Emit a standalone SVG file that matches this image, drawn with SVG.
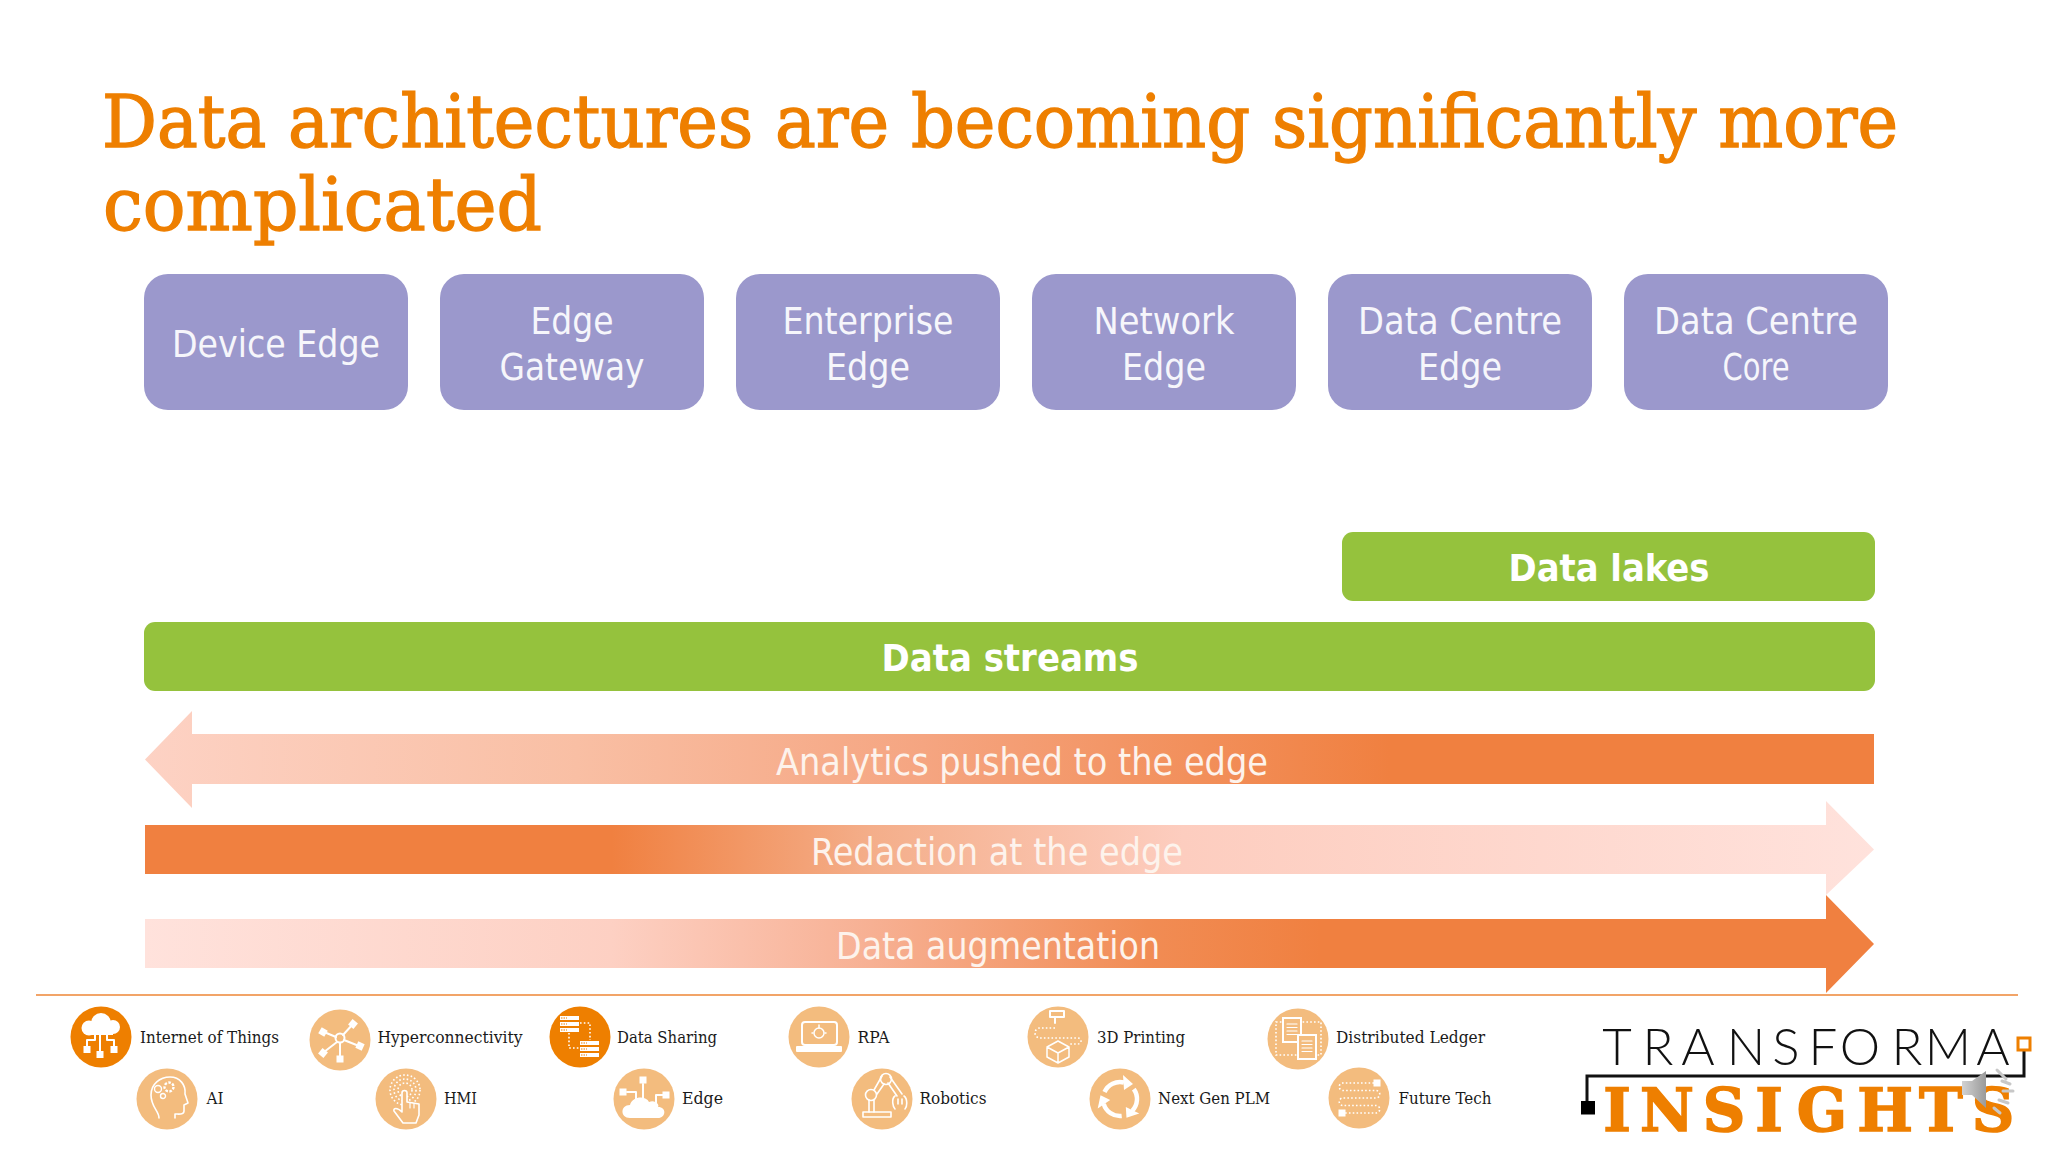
<svg xmlns="http://www.w3.org/2000/svg" width="2048" height="1152" viewBox="0 0 2048 1152">
<style>
.title{font-family:"DejaVu Serif","Liberation Serif",serif;font-size:72px;fill:#EE7F00;stroke:#EE7F00;stroke-width:1.4px}
.t{font-family:"DejaVu Sans","Noto Sans",sans-serif;font-stretch:condensed;font-size:37px;fill:#F6F6FB;text-anchor:middle}
.b{font-family:"DejaVu Sans","Noto Sans",sans-serif;font-stretch:condensed;font-size:38px;font-weight:bold;fill:#fff;text-anchor:middle}
.a{font-family:"DejaVu Sans","Noto Sans",sans-serif;font-stretch:condensed;font-size:37px;fill:#FDF3EC;text-anchor:middle}
.l{font-family:"DejaVu Serif","Liberation Serif",serif;font-size:16px;fill:#1a1a1a}
.box{fill:#9B98CC}
.bar{fill:#95C23D}
.dk{fill:#EE7F00}
.lt{fill:#F3BC7E}
.w{fill:#fff}
.s{fill:none;stroke:#fff;stroke-width:2;stroke-linejoin:round;stroke-linecap:round}
.d{fill:none;stroke:#fff;stroke-width:1.6;stroke-dasharray:1.6 2.2}
</style>
<defs>
<linearGradient id="g1" gradientUnits="userSpaceOnUse" x1="145" y1="0" x2="1874" y2="0">
<stop offset="0" stop-color="#FDD2C4"/><stop offset="0.25" stop-color="#F9BFA4"/><stop offset="0.45" stop-color="#F5A581"/><stop offset="0.72" stop-color="#F08040"/><stop offset="1" stop-color="#F08040"/>
</linearGradient>
<linearGradient id="g2" gradientUnits="userSpaceOnUse" x1="145" y1="0" x2="1874" y2="0">
<stop offset="0" stop-color="#F08040"/><stop offset="0.27" stop-color="#F08040"/><stop offset="0.42" stop-color="#F4AE8A"/><stop offset="0.6" stop-color="#FDCDBF"/><stop offset="1" stop-color="#FFE2DC"/>
</linearGradient>
<linearGradient id="g3" gradientUnits="userSpaceOnUse" x1="145" y1="0" x2="1874" y2="0">
<stop offset="0" stop-color="#FFE2DC"/><stop offset="0.27" stop-color="#FDD0C3"/><stop offset="0.42" stop-color="#F7B093"/><stop offset="0.58" stop-color="#F18C54"/><stop offset="0.68" stop-color="#F08040"/><stop offset="1" stop-color="#F08040"/>
</linearGradient>
<linearGradient id="sp" x1="0" y1="0" x2="1" y2="0"><stop offset="0" stop-color="#D2D2D2"/><stop offset="1" stop-color="#9A9A9A"/></linearGradient>
</defs>
<rect width="2048" height="1152" fill="#fff"/>
<g id="title">
<text class="title" x="102" y="147" textLength="1796" lengthAdjust="spacingAndGlyphs">Data architectures are becoming significantly more</text>
<text class="title" x="103" y="230" textLength="439" lengthAdjust="spacingAndGlyphs">complicated</text>
</g>
<g id="device-edge"><rect class="box" x="144" y="274" width="264" height="136" rx="24"/><text class="t" x="276" y="357" textLength="208" lengthAdjust="spacingAndGlyphs">Device Edge</text></g>
<g id="edge-gateway"><rect class="box" x="440" y="274" width="264" height="136" rx="24"/><text class="t" x="572" y="334" textLength="83" lengthAdjust="spacingAndGlyphs">Edge</text><text class="t" x="572" y="380" textLength="145" lengthAdjust="spacingAndGlyphs">Gateway</text></g>
<g id="enterprise-edge"><rect class="box" x="736" y="274" width="264" height="136" rx="24"/><text class="t" x="868" y="334" textLength="171" lengthAdjust="spacingAndGlyphs">Enterprise</text><text class="t" x="868" y="380" textLength="84" lengthAdjust="spacingAndGlyphs">Edge</text></g>
<g id="network-edge"><rect class="box" x="1032" y="274" width="264" height="136" rx="24"/><text class="t" x="1164" y="334" textLength="141" lengthAdjust="spacingAndGlyphs">Network</text><text class="t" x="1164" y="380" textLength="84" lengthAdjust="spacingAndGlyphs">Edge</text></g>
<g id="data-centre-edge"><rect class="box" x="1328" y="274" width="264" height="136" rx="24"/><text class="t" x="1460" y="334" textLength="204" lengthAdjust="spacingAndGlyphs">Data Centre</text><text class="t" x="1460" y="380" textLength="84" lengthAdjust="spacingAndGlyphs">Edge</text></g>
<g id="data-centre-core"><rect class="box" x="1624" y="274" width="264" height="136" rx="24"/><text class="t" x="1756" y="334" textLength="204" lengthAdjust="spacingAndGlyphs">Data Centre</text><text class="t" x="1756" y="380" textLength="67" lengthAdjust="spacingAndGlyphs">Core</text></g>
<g id="data-lakes"><rect class="bar" x="1342" y="532" width="533" height="69" rx="11"/><text class="b" x="1609" y="581" textLength="201" lengthAdjust="spacingAndGlyphs">Data lakes</text></g>
<g id="data-streams"><rect class="bar" x="144" y="622" width="1731" height="69" rx="11"/><text class="b" x="1010" y="671" textLength="257" lengthAdjust="spacingAndGlyphs">Data streams</text></g>
<g id="connectors">
<g id="analytics-arrow"><path fill="url(#g1)" d="M145,759.500 L192,711 V734 H1874 V784 H192 V808 Z"/><text class="a" x="1022" y="775" textLength="492" lengthAdjust="spacingAndGlyphs">Analytics pushed to the edge</text></g>
<g id="redaction-arrow"><path fill="url(#g2)" d="M145,825 H1826 V801 L1874,849.500 L1826,895 V874 H145 Z"/><text class="a" x="997" y="865" textLength="372" lengthAdjust="spacingAndGlyphs">Redaction at the edge</text></g>
<g id="augmentation-arrow"><path fill="url(#g3)" d="M145,919 H1826 V895 L1874,944 L1826,993 V968 H145 Z"/><text class="a" x="998" y="959" textLength="324" lengthAdjust="spacingAndGlyphs">Data augmentation</text></g>
</g>
<line id="divider" x1="36" y1="995" x2="2018" y2="995" stroke="#F2A468" stroke-width="1.800"/>

<g id="iot"><circle class="dk" cx="101" cy="1037" r="30.500"/><g transform="translate(101,1037)"><circle class="w" cx="-12" cy="-9" r="7.500"/><circle class="w" cx="0" cy="-14" r="10"/><circle class="w" cx="12" cy="-10" r="7"/><rect class="w" x="-12" y="-12" width="24" height="10"/><path class="s" d="M-1,-2 V14 M-6,-2 V3 H-14 V9 M6,-2 V3 H13 V9"/><rect class="w" x="-17.500" y="9" width="7" height="7"/><rect class="w" x="-4.500" y="14" width="7" height="7"/><rect class="w" x="9.500" y="9" width="7" height="7"/></g><text class="l" x="140" y="1043" textLength="139" lengthAdjust="spacingAndGlyphs">Internet of Things</text></g>

<g id="hyperconnectivity"><circle class="lt" cx="340" cy="1040" r="30.500"/><g transform="translate(340,1040)"><circle class="s" cx="0" cy="-2" r="4.500"/><path class="s" d="M-4,-3 L-16,-8 M3,-5 L13,-16 M4,0 L19,6 M-3,2 L-16,12 M0,3 V19"/><rect class="w" x="-3.500" y="-3.500" width="7" height="7" transform="translate(-17,-8) rotate(30)"/><rect class="w" x="-3.500" y="-3.500" width="7" height="7" transform="translate(13,-16) rotate(40)"/><rect class="w" x="-3.500" y="-3.500" width="7" height="7" transform="translate(20,6) rotate(25)"/><rect class="w" x="-3.500" y="-3.500" width="7" height="7" transform="translate(-17,13) rotate(40)"/><rect class="w" x="-3.500" y="15.500" width="7" height="7"/></g><text class="l" x="377.500" y="1043" textLength="145" lengthAdjust="spacingAndGlyphs">Hyperconnectivity</text></g>

<g id="data-sharing"><circle class="dk" cx="580" cy="1037" r="30.500"/><g transform="translate(580,1037)"><path class="w" d="M-20,-21 h19 v4 h-19 Z M-20,-15 h19 v4 h-19 Z M-20,-9 h19 v4 h-19 Z M0,4 h19 v4 h-19 Z M0,10 h19 v4 h-19 Z M0,16 h19 v4 h-19 Z"/><path d="M-19,-19 h6 M-19,-13 h6 M-19,-7 h6 M1,6 h6 M1,12 h6 M1,18 h6" stroke="#EE7F00" stroke-width="1.200" stroke-dasharray="1.500 1"/><path class="d" d="M0,-14 H10 V3 M-11,-4 V11 H0"/></g><text class="l" x="617" y="1043" textLength="100" lengthAdjust="spacingAndGlyphs">Data Sharing</text></g>

<g id="rpa"><circle class="lt" cx="819" cy="1037" r="30.500"/><g transform="translate(819,1037)"><rect class="s" x="-17" y="-15" width="35" height="23" rx="3"/><rect class="w" x="-23" y="9" width="46" height="6" rx="1"/><circle class="s" style="stroke-width:1.500" cx="0" cy="-4" r="5"/><path class="s" style="stroke-width:1.500" d="M0,-9 V-12 M-6,-4 H-7 M6,-4 H7"/></g><text class="l" x="857.500" y="1043" textLength="32" lengthAdjust="spacingAndGlyphs">RPA</text></g>

<g id="printing-3d"><circle class="lt" cx="1058" cy="1037" r="30.500"/><g transform="translate(1058,1037)"><rect class="s" x="-8" y="-26" width="14" height="6"/><path class="s" d="M-3,-20 V-14"/><path class="d" d="M-3,-9 H-18 a5,5 0 0 0 0,10 H20 a3,3 0 0 1 0,6 H11"/><path class="s" style="stroke-width:1.500" d="M0,4 L11,10 V20 L0,26 L-11,20 V10 Z M-11,10 L0,16 L11,10 M0,16 V26"/></g><text class="l" x="1097" y="1043" textLength="88" lengthAdjust="spacingAndGlyphs">3D Printing</text></g>

<g id="distributed-ledger"><circle class="lt" cx="1298" cy="1039" r="30.500"/><g transform="translate(1298,1039)"><rect class="d" x="-22" y="-17" width="45" height="33"/><rect x="-15" y="-21" width="18" height="24" fill="#F3BC7E" stroke="#fff" stroke-width="2"/><rect x="0" y="-4" width="18" height="24" fill="#F3BC7E" stroke="#fff" stroke-width="2"/><path class="s" style="stroke-width:1.200" d="M-11,-15 H-1 M-11,-11.500 H-1 M-11,-8 H-1 M-11,-4.500 H-1 M4,2 H14 M4,5.500 H14 M4,9 H14 M4,12.500 H14"/></g><text class="l" x="1336" y="1043" textLength="149" lengthAdjust="spacingAndGlyphs">Distributed Ledger</text></g>

<g id="ai"><circle class="lt" cx="167" cy="1099" r="30.500"/><g transform="translate(167,1099)"><path class="s" style="stroke-width:1.600" d="M-8,19 C-8,12 -16,8 -16,-4 C-16,-15 -7,-22 3,-22 C13,-22 19,-14 18,-5 L21,4 L17,6 L17,12 C17,16 12,15 8,15 L8,19"/><circle class="s" style="stroke-width:2.400;stroke-dasharray:2.500 1.500;stroke-linecap:butt" cx="2" cy="-12" r="4.500"/><circle class="s" style="stroke-width:1.400" cx="-9" cy="-10" r="3.500"/><circle class="s" style="stroke-width:1.400" cx="-4" cy="-3" r="2.500"/></g><text class="l" x="206.500" y="1104" textLength="17" lengthAdjust="spacingAndGlyphs">AI</text></g>

<g id="hmi"><circle class="lt" cx="406" cy="1099" r="30.500"/><g transform="translate(406,1099)"><circle class="d" cx="-1" cy="-9" r="7"/><circle class="d" cx="-1" cy="-9" r="11"/><circle class="d" cx="-1" cy="-9" r="15"/><path class="s" style="fill:#F3BC7E;stroke-width:1.600" d="M-3,24 L-12,12 C-13,9 -9,8 -4,13 V-6 a2.500,2.500 0 0 1 5,0 V3 L13,5 V16 L10,24 Z"/><path class="s" style="stroke-width:1.200" d="M4,4 V9 M8,4.500 V9"/></g><text class="l" x="444" y="1104" textLength="33" lengthAdjust="spacingAndGlyphs">HMI</text></g>

<g id="edge"><circle class="lt" cx="644" cy="1099" r="30.500"/><g transform="translate(644,1099)"><path class="s" d="M-17,-7 H-8 V2 M-1,-15 V0 M19,-4 H12 V4"/><rect class="w" x="-24.500" y="-10.500" width="7" height="7"/><rect class="w" x="-4.500" y="-22.500" width="7" height="7"/><rect class="w" x="18.500" y="-7.500" width="7" height="7"/><path class="w" d="M-14,19 C-24,19 -24,6 -14,6 C-12,-3 2,-4 5,3 C11,0 16,6 14,8 C23,8 22,19 14,19 Z"/></g><text class="l" x="682" y="1104" textLength="41" lengthAdjust="spacingAndGlyphs">Edge</text></g>

<g id="robotics"><circle class="lt" cx="882" cy="1099" r="30.500"/><g transform="translate(882,1099)"><rect class="s" style="stroke-width:1.600" x="-19" y="13" width="28" height="5"/><path class="s" style="stroke-width:1.600" d="M-13,13 V1 M-8,13 V1 M-8,-9 L0,-23 M-5,-5 L2,-15 M8,-22 L20,-5 M6,-16 L15,-3 M13,-3 C9,0 11,8 13,10 M22,-3 C26,0 25,8 23,10 M16,0 V5 M20,0 V5"/><circle class="s" style="stroke-width:1.600" cx="-11" cy="-4" r="5.500"/><circle class="s" style="stroke-width:1.600" cx="4" cy="-20" r="5.500"/></g><text class="l" x="919.500" y="1104" textLength="67" lengthAdjust="spacingAndGlyphs">Robotics</text></g>

<g id="next-gen-plm"><circle class="lt" cx="1120" cy="1099" r="30.500"/><g transform="translate(1120,1099)"><g><path fill="none" stroke="#fff" stroke-width="4.500" d="M-15.500,-7 A17,17 0 0 1 4,-16.500"/><path class="w" d="M3,-24 L13,-15 L4,-9 Z"/></g><g transform="rotate(120)"><path fill="none" stroke="#fff" stroke-width="4.500" d="M-15.500,-7 A17,17 0 0 1 4,-16.500"/><path class="w" d="M3,-24 L13,-15 L4,-9 Z"/></g><g transform="rotate(240)"><path fill="none" stroke="#fff" stroke-width="4.500" d="M-15.500,-7 A17,17 0 0 1 4,-16.500"/><path class="w" d="M3,-24 L13,-15 L4,-9 Z"/></g></g><text class="l" x="1158" y="1104" textLength="112" lengthAdjust="spacingAndGlyphs">Next Gen PLM</text></g>

<g id="future-tech"><circle class="lt" cx="1359" cy="1098" r="30.500"/><g transform="translate(1359,1098)"><path class="d" d="M15,-15 H-16 a3.500,3.500 0 0 0 0,7.500 H17 a3.500,3.500 0 0 1 0,7.500 H-16 a3.500,3.500 0 0 0 0,7.500 H17 a3.500,3.500 0 0 1 0,7.500 H-14"/><rect class="w" x="14.500" y="-18.500" width="7" height="7"/><rect class="w" x="-20.500" y="11.500" width="7" height="7"/></g><text class="l" x="1398.500" y="1104" textLength="93" lengthAdjust="spacingAndGlyphs">Future Tech</text></g>

<g id="logo">
<text y="1065" x="1617 1658 1698 1746 1786 1823 1860 1907 1948 1993" text-anchor="middle" font-family="Lato,'Open Sans',sans-serif" font-weight="300" font-size="51" fill="#111">TRANSFORMA</text>
<path d="M2024,1050 V1076 H1587 V1103" fill="none" stroke="#111" stroke-width="3"/>
<rect x="1581" y="1101" width="14" height="13.500" fill="#000"/>
<rect x="2018" y="1038" width="12" height="12" fill="#fff" stroke="#EE7F00" stroke-width="3"/>
<text y="1131" x="1617 1667 1724 1769 1822 1885 1941 1993" text-anchor="middle" font-family="'DejaVu Serif',serif" font-weight="bold" font-size="59" fill="#EE7F00" stroke="#EE7F00" stroke-width="1.500">INSIGHTS</text>
</g>
<g id="speaker">
<path fill="url(#sp)" d="M1986,1071 L1972,1081 H1962 V1095 H1972 L1986,1108 Z"/>
<path d="M1997,1070 L2006,1079 M2002,1081 L2010,1084 M2003,1091 L2013,1091 M1999,1100 L2008,1103 M1994,1108 L2000,1113" fill="none" stroke="#C8C8C8" stroke-width="3" stroke-linecap="round"/>
</g>
</svg>
